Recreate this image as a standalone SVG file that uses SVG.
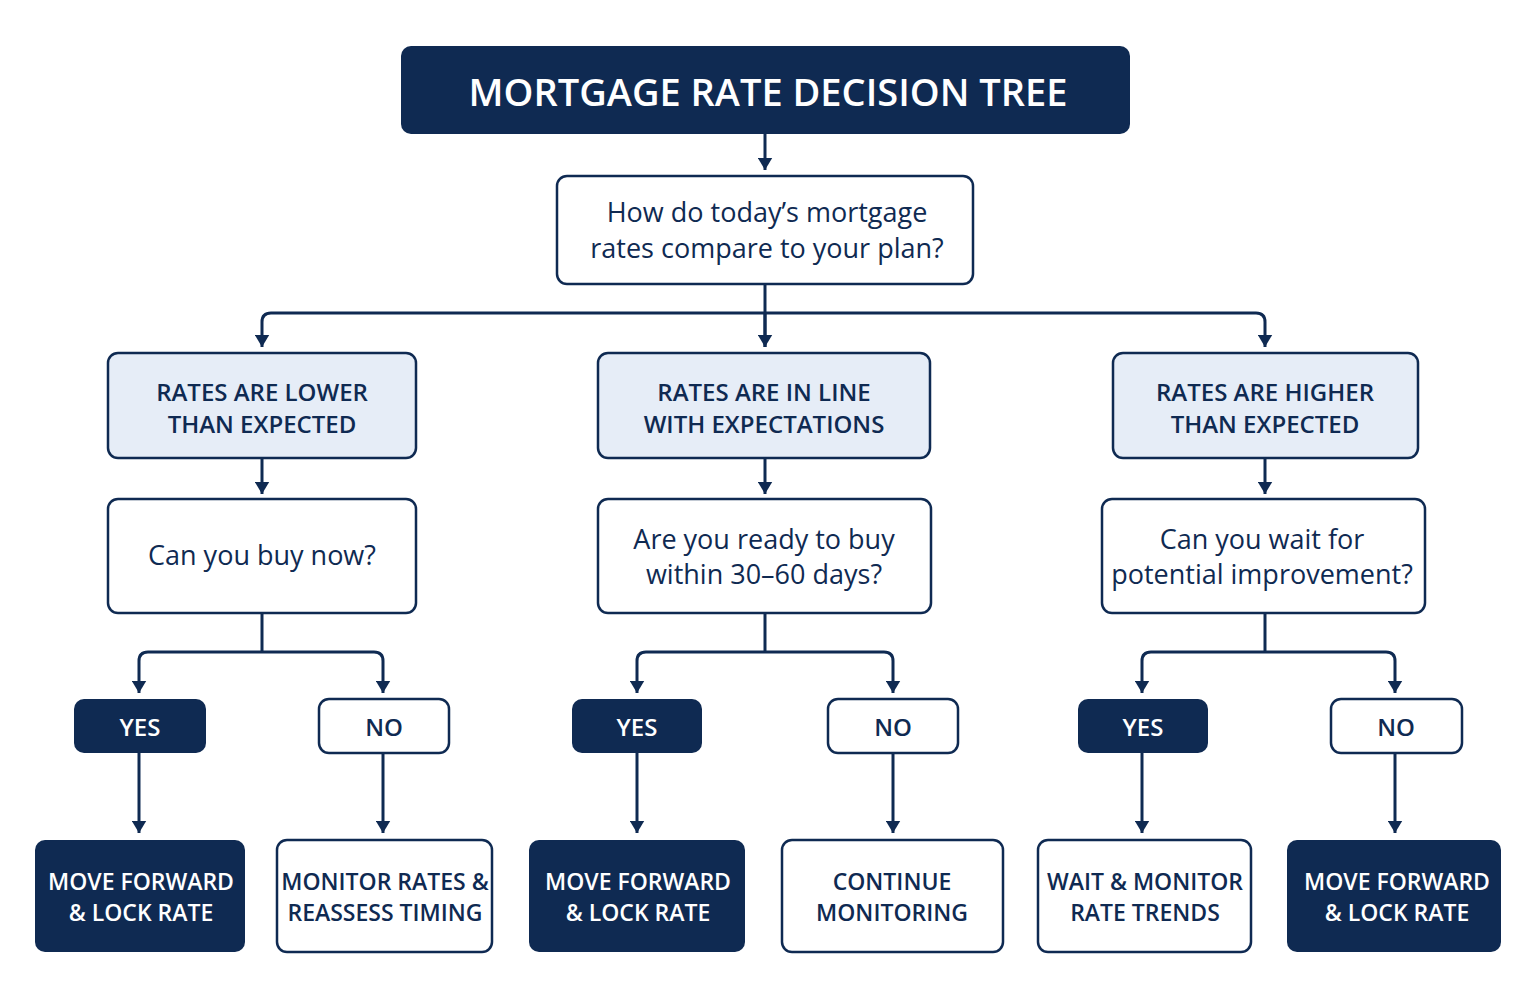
<svg xmlns="http://www.w3.org/2000/svg" width="1535" height="1003" viewBox="0 0 1535 1003">
<style>
text{font-family:"Open Sans","Noto Sans",sans-serif;text-anchor:middle}
.dk{fill:#0f2a52}
.wh{fill:#fff;stroke:#0f2a52;stroke-width:2.5}
.lt{fill:#e6edf7;stroke:#0f2a52;stroke-width:2.5}
.tw{fill:#fff;font-weight:600}
.tb{fill:#0f2a52;font-weight:600}
.q{fill:#0f2a52;font-size:27px;font-weight:500}
.c{fill:none;stroke:#0f2a52;stroke-width:3;stroke-linejoin:round}
</style>
<defs><marker id="a" viewBox="0 0 10 10" refX="5" refY="8" markerWidth="5" markerHeight="5" orient="auto-start-reverse" markerUnits="strokeWidth"><path d="M0,0 L10,0 L5,10 z" fill="#0f2a52" transform="rotate(-90 5 5)"/></marker>
<marker id="d" viewBox="0 0 12 10" refX="6" refY="10" markerWidth="5" markerHeight="4" orient="0" markerUnits="strokeWidth"><path d="M0,0 L12,0 L6,10 z" fill="#0f2a52"/></marker></defs>
<rect width="1535" height="1003" fill="#fff"/>
<g id="connectors" class="c">
<path d="M765 134V170" marker-end="url(#d)"/>
<path d="M765 284V347"/>
<path d="M262 347V322Q262 313 271 313H1256Q1265 313 1265 322V347" marker-start="url(#d)" marker-end="url(#d)"/>
<path d="M765 313V347" marker-end="url(#d)"/>
<path d="M262 458V494" marker-end="url(#d)"/><path d="M765 458V494" marker-end="url(#d)"/><path d="M1265 458V494" marker-end="url(#d)"/>
<path d="M262 613V652"/><path d="M139 693V661Q139 652 148 652H374Q383 652 383 661V693" marker-start="url(#d)" marker-end="url(#d)"/>
<path d="M765 613V652"/><path d="M637 693V661Q637 652 646 652H884Q893 652 893 661V693" marker-start="url(#d)" marker-end="url(#d)"/>
<path d="M1265 613V652"/><path d="M1142 693V661Q1142 652 1151 652H1386Q1395 652 1395 661V693" marker-start="url(#d)" marker-end="url(#d)"/>
<path d="M139 753V833" marker-end="url(#d)"/><path d="M383 753V833" marker-end="url(#d)"/>
<path d="M637 753V833" marker-end="url(#d)"/><path d="M893 753V833" marker-end="url(#d)"/>
<path d="M1142 753V833" marker-end="url(#d)"/><path d="M1395 753V833" marker-end="url(#d)"/>
</g>
<g id="title"><rect x="401" y="46" width="729" height="88" rx="10" class="dk"/><text x="768" y="106" class="tw" font-size="38" font-weight="700">MORTGAGE RATE DECISION TREE</text></g>
<g id="q1"><rect x="557" y="176" width="416" height="108" rx="10" class="wh"/><text x="767" y="222" class="q">How do today’s mortgage</text><text x="767" y="258" class="q">rates compare to your plan?</text></g>
<g id="lower"><rect x="108" y="353" width="308" height="105" rx="10" class="lt"/><text x="262" y="401" class="tb" font-size="24">RATES ARE LOWER</text><text x="262" y="433" class="tb" font-size="24">THAN EXPECTED</text></g>
<g id="inline"><rect x="598" y="353" width="332" height="105" rx="10" class="lt"/><text x="764" y="401" class="tb" font-size="24">RATES ARE IN LINE</text><text x="764" y="433" class="tb" font-size="24">WITH EXPECTATIONS</text></g>
<g id="higher"><rect x="1113" y="353" width="305" height="105" rx="10" class="lt"/><text x="1265" y="401" class="tb" font-size="24">RATES ARE HIGHER</text><text x="1265" y="433" class="tb" font-size="24">THAN EXPECTED</text></g>
<g id="q2l"><rect x="108" y="499" width="308" height="114" rx="10" class="wh"/><text x="262" y="565" class="q">Can you buy now?</text></g>
<g id="q2m"><rect x="598" y="499" width="333" height="114" rx="10" class="wh"/><text x="764" y="549" class="q">Are you ready to buy</text><text x="764" y="584" class="q">within 30–60 days?</text></g>
<g id="q2r"><rect x="1102" y="499" width="323" height="114" rx="10" class="wh"/><text x="1262" y="549" class="q">Can you wait for</text><text x="1262" y="584" class="q">potential improvement?</text></g>
<g id="yes1"><rect x="74" y="699" width="132" height="54" rx="10" class="dk"/><text x="140" y="736" class="tw" font-size="24">YES</text></g>
<g id="no1"><rect x="319" y="699" width="130" height="54" rx="10" class="wh"/><text x="384" y="736" class="tb" font-size="24">NO</text></g>
<g id="yes2"><rect x="572" y="699" width="130" height="54" rx="10" class="dk"/><text x="637" y="736" class="tw" font-size="24">YES</text></g>
<g id="no2"><rect x="828" y="699" width="130" height="54" rx="10" class="wh"/><text x="893" y="736" class="tb" font-size="24">NO</text></g>
<g id="yes3"><rect x="1078" y="699" width="130" height="54" rx="10" class="dk"/><text x="1143" y="736" class="tw" font-size="24">YES</text></g>
<g id="no3"><rect x="1331" y="699" width="131" height="54" rx="10" class="wh"/><text x="1396" y="736" class="tb" font-size="24">NO</text></g>
<g id="r1"><rect x="35" y="840" width="210" height="112" rx="10" class="dk"/><text x="141" y="890" class="tw" font-size="23">MOVE FORWARD</text><text x="141" y="921" class="tw" font-size="23">&amp; LOCK RATE</text></g>
<g id="r2"><rect x="277" y="840" width="215" height="112" rx="10" class="wh"/><text x="385" y="890" class="tb" font-size="23">MONITOR RATES &amp;</text><text x="385" y="921" class="tb" font-size="23">REASSESS TIMING</text></g>
<g id="r3"><rect x="529" y="840" width="216" height="112" rx="10" class="dk"/><text x="638" y="890" class="tw" font-size="23">MOVE FORWARD</text><text x="638" y="921" class="tw" font-size="23">&amp; LOCK RATE</text></g>
<g id="r4"><rect x="782" y="840" width="221" height="112" rx="10" class="wh"/><text x="892" y="890" class="tb" font-size="23">CONTINUE</text><text x="892" y="921" class="tb" font-size="23">MONITORING</text></g>
<g id="r5"><rect x="1038" y="840" width="213" height="112" rx="10" class="wh"/><text x="1145" y="890" class="tb" font-size="23">WAIT &amp; MONITOR</text><text x="1145" y="921" class="tb" font-size="23">RATE TRENDS</text></g>
<g id="r6"><rect x="1287" y="840" width="214" height="112" rx="10" class="dk"/><text x="1397" y="890" class="tw" font-size="23">MOVE FORWARD</text><text x="1397" y="921" class="tw" font-size="23">&amp; LOCK RATE</text></g>
</svg>
